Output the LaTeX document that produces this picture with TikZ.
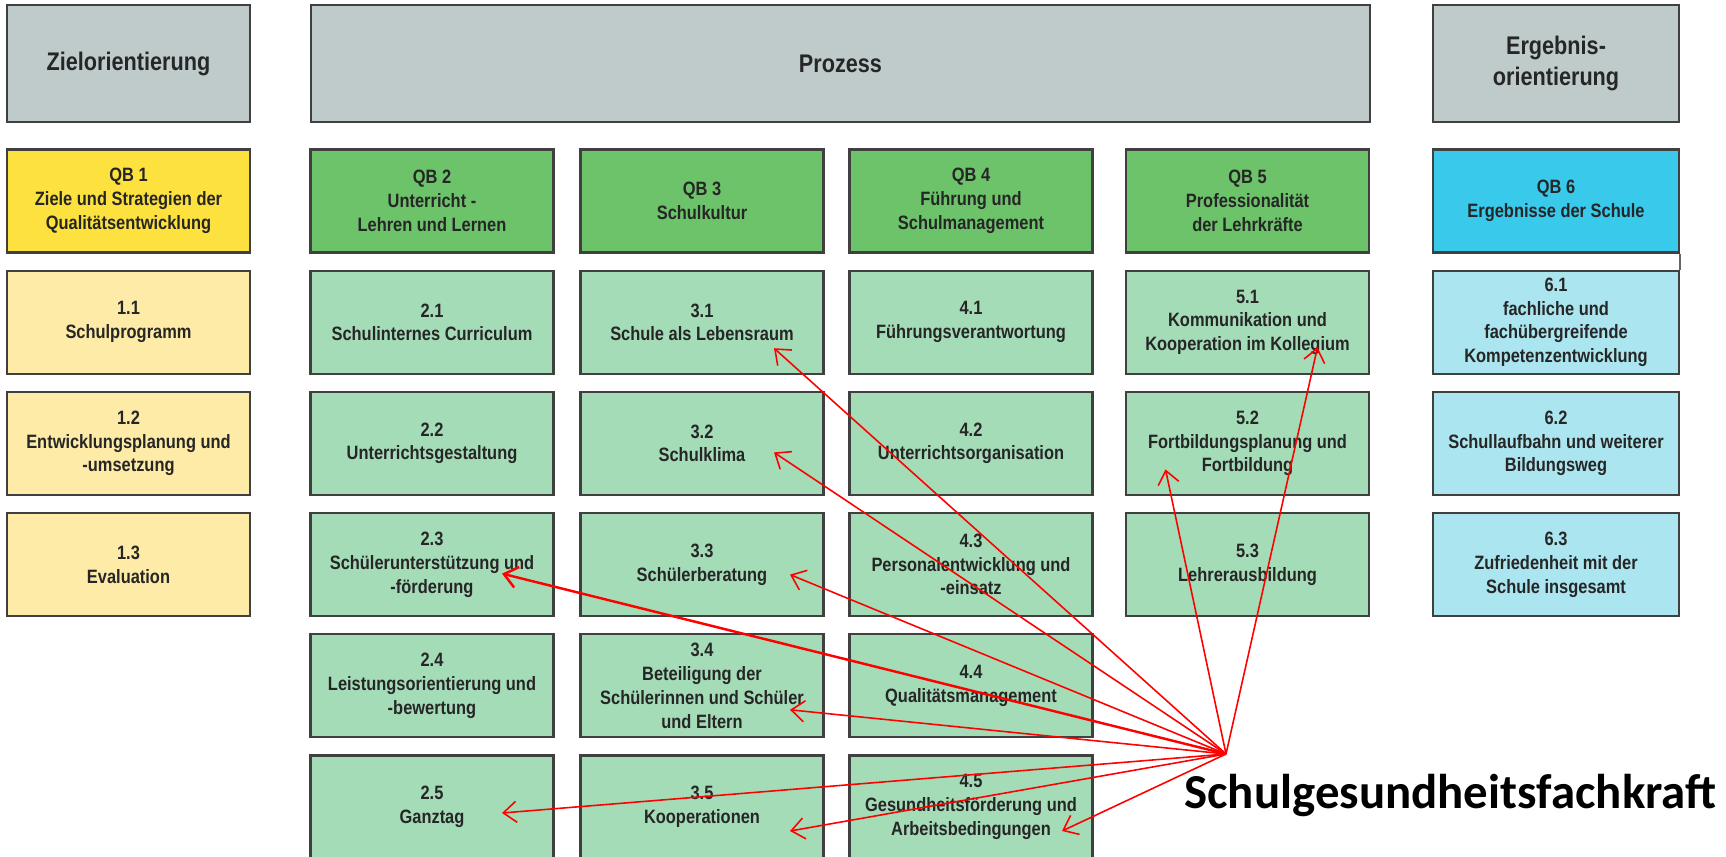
\documentclass[tikz,border=0pt]{standalone}
\usepackage{fontspec}
\setmainfont{Liberation Sans}[FakeStretch=0.85]
\newfontfamily\labelfont{Carlito}
\usepackage{tikz}
\usetikzlibrary{positioning, arrows.meta}
\usepackage{xcolor}
\definecolor{Kopfgrau}{RGB}{191, 203, 203}
\definecolor{QBgelb}{RGB}{253, 225, 63}
\definecolor{Gelbhell}{RGB}{254, 235, 167}
\definecolor{QBgruen}{RGB}{108, 195, 106}
\definecolor{Gruenhell}{RGB}{165, 220, 184}
\definecolor{QBblau}{RGB}{56, 201, 235}
\definecolor{Blauhell}{RGB}{171, 229, 240}

\begin{document}
\begin{tikzpicture}[x=0.02cm, y=-0.02cm]
          \tikzstyle{feld} = [rectangle, draw=black!75, line width=1.2pt, minimum width=4.86cm,
            minimum height=2.06cm, align=center, inner sep=2pt, text=black!85,
            font=\bfseries\fontsize{11}{13.5}\selectfont]
          \tikzstyle{kopf} = [feld, fill=Kopfgrau, minimum height=2.34cm, font=\bfseries\fontsize{14.5}{18}\selectfont]
          \tikzstyle{pfeil} = [draw=red, line width=0.9pt, -{Straight Barb[length=7.5pt, width=12pt]}]

          \fill[white] (0,0) rectangle (1726,856);
          \useasboundingbox (0,0) rectangle (1726,856);

          % Kopfzeile
          \node[kopf] (ziel) at (128.5, 63.5) {Zielorientierung};
          \node[kopf, minimum width=21.18cm] (prozess) at (840.5, 63.5) {Prozess};
          \node[kopf, minimum width=4.92cm] (ergebnis) at (1556, 63.5) {Ergebnis-\\orientierung};

          % Qualitaetsbereiche
          \node[feld, fill=QBgelb] (qb1) at (128.5, 201) {QB 1\\Ziele und Strategien der\\Qualitätsentwicklung};
          \node[feld, fill=QBgruen] (qb2) at (432, 201) {QB 2\\Unterricht -\\Lehren und Lernen};
          \node[feld, fill=QBgruen] (qb3) at (702, 201) {QB 3\\Schulkultur};
          \node[feld, fill=QBgruen] (qb4) at (971, 201) {QB 4\\Führung und\\Schulmanagement};
          \node[feld, fill=QBgruen] (qb5) at (1247.5, 201) {QB 5\\Professionalität\\der Lehrkräfte};
          \node[feld, fill=QBblau, minimum width=4.92cm] (qb6) at (1556, 201) {QB 6\\Ergebnisse der Schule};

          % Spalte 1
          \foreach \txt [count=\i] in {{1.1\\Schulprogramm}, {1.2\\Entwicklungsplanung und\\-umsetzung},
              {1.3\\Evaluation}}
            \node[feld, fill=Gelbhell] (b1\i) at (128.5, 201+121.2*\i) {\txt};

          % Spalte 2
          \foreach \txt [count=\i] in {{2.1\\Schulinternes Curriculum}, {2.2\\Unterrichtsgestaltung},
              {2.3\\Schülerunterstützung und\\-förderung}, {2.4\\Leistungsorientierung und\\-bewertung},
              {2.5\\Ganztag}}
            \node[feld, fill=Gruenhell] (b2\i) at (432, 201+121.2*\i) {\txt};

          % Spalte 3
          \foreach \txt [count=\i] in {{3.1\\Schule als Lebensraum}, {3.2\\Schulklima}, {3.3\\Schülerberatung},
              {3.4\\Beteiligung der\\Schülerinnen und Schüler\\und Eltern}, {3.5\\Kooperationen}}
            \node[feld, fill=Gruenhell] (b3\i) at (702, 201+121.2*\i) {\txt};

          % Spalte 4
          \foreach \txt [count=\i] in {{4.1\\Führungsverantwortung}, {4.2\\Unterrichtsorganisation},
              {4.3\\Personalentwicklung und\\-einsatz}, {4.4\\Qualitätsmanagement},
              {4.5\\Gesundheitsförderung und\\Arbeitsbedingungen}}
            \node[feld, fill=Gruenhell] (b4\i) at (971, 201+121.2*\i) {\txt};

          % Spalte 5
          \foreach \txt [count=\i] in {{5.1\\Kommunikation und\\Kooperation im Kollegium},
              {5.2\\Fortbildungsplanung und\\Fortbildung}, {5.3\\Lehrerausbildung}}
            \node[feld, fill=Gruenhell] (b5\i) at (1247.5, 201+121.2*\i) {\txt};

          % Spalte 6
          \foreach \txt [count=\i] in {{6.1\\fachliche und\\fachübergreifende\\Kompetenzentwicklung},
              {6.2\\Schullaufbahn und weiterer\\Bildungsweg}, {6.3\\Zufriedenheit mit der\\Schule insgesamt}}
            \node[feld, fill=Blauhell, minimum width=4.92cm] (b6\i) at (1556, 201+121.2*\i) {\txt};
          \draw[black!60, line width=0.8pt] (qb6.south east) -- (b61.north east);

          % Schulgesundheitsfachkraft
          \node[anchor=base west, inner sep=0pt, font=\labelfont\bfseries\fontsize{27.8}{32}\selectfont]
            (sgf) at (1184, 808) {Schulgesundheitsfachkraft};
          \coordinate (quelle) at (1226, 754);

          \draw[pfeil] (quelle) -- ([shift={(72,26)}]b31.center);
          \draw[pfeil] (quelle) -- ([shift={(70,25)}]b51.center);
          \draw[pfeil] (quelle) -- ([shift={(72,9)}]b32.center);
          \draw[pfeil] (quelle) -- ([shift={(-82,26)}]b52.center);
          \draw[pfeil, line width=1.4pt] (quelle) -- ([shift={(70,9)}]b23.center);
          \draw[pfeil] (quelle) -- ([shift={(88,10)}]b33.center);
          \draw[pfeil] (quelle) -- ([shift={(88,24)}]b34.center);
          \draw[pfeil] (quelle) -- ([shift={(70,6)}]b25.center);
          \draw[pfeil] (quelle) -- ([shift={(88,24)}]b35.center);
          \draw[pfeil] (quelle) -- ([shift={(91,24)}]b45.center);
        \end{tikzpicture}
\end{document}
